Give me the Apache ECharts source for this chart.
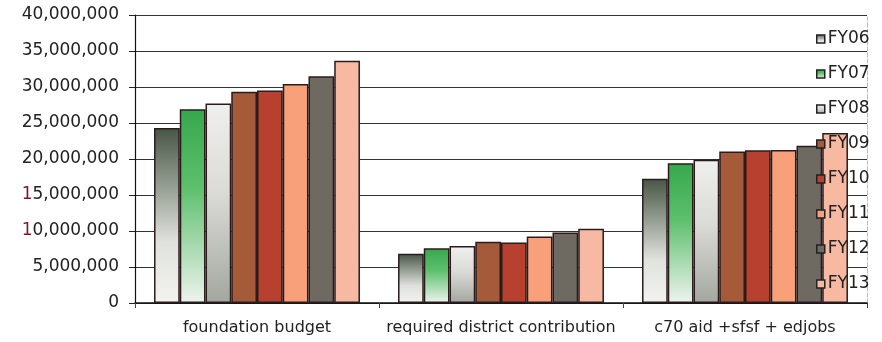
<!DOCTYPE html>
<html>
<head>
<meta charset="utf-8">
<script src="https://cdn.jsdelivr.net/npm/echarts@6/dist/echarts.min.js"></script>
<style>
html,body{margin:0;padding:0;background:#fff;}
#c{width:882px;height:342px;}
</style>
</head>
<body>
<div id="c"></div>
<script>
const categories = ['foundation budget', 'required district contribution', 'c70 aid +sfsf + edjobs'];
const seriesNames = ['FY06', 'FY07', 'FY08', 'FY09', 'FY10', 'FY11', 'FY12', 'FY13'];
const FY06 = [24300000, 6850000, 17250000];
const FY07 = [26900000, 7600000, 19400000];
const FY08 = [27700000, 7900000, 19900000];
const FY09 = [29350000, 8500000, 21050000];
const FY10 = [29500000, 8400000, 21200000];
const FY11 = [30400000, 9250000, 21250000];
const FY12 = [31500000, 9800000, 21850000];
const FY13 = [33650000, 10300000, 23600000];
const seriesValues = [FY06, FY07, FY08, FY09, FY10, FY11, FY12, FY13];
const yMin = 0, yMax = 40000000, yStep = 5000000;

function grad(stops) {
  return new echarts.graphic.LinearGradient(0, 0, 0, 1,
    stops.map(s => ({offset: s[0], color: s[1]})));
}
const colors = [
  grad([[0, '#485646'], [0.65, '#dfe2dc'], [1, '#f3f3ef']]),
  grad([[0, '#36a84c'], [0.4, '#5cbf6c'], [1, '#eef4ee']]),
  grad([[0, '#efefed'], [0.45, '#dadad6'], [1, '#a3a79f']]),
  '#a55a3a',
  '#b8402e',
  '#f7a07a',
  '#6e6a62',
  '#f8b9a2'
];

const chart = echarts.init(document.getElementById('c'));
const FONT = 'DejaVu Sans';
chart.setOption({
  animation: false,
  backgroundColor: '#fff',
  grid: {left: 135, right: 15, top: 15, bottom: 39, containLabel: false},
  legend: {
    orient: 'vertical',
    left: 811,
    top: 24,
    itemWidth: 8,
    itemHeight: 8,
    itemGap: 15,
    icon: 'rect',
    itemStyle: {borderColor: '#222', borderWidth: 1.5},
    textStyle: {fontFamily: FONT, fontSize: 17, color: '#222', lineHeight: 20, padding: [0, 0, 0, -2]},
    data: seriesNames
  },
  xAxis: {
    type: 'category',
    data: categories,
    axisLine: {lineStyle: {color: '#111', width: 1.5}},
    axisTick: {show: true, length: 5, lineStyle: {color: '#444'}},
    axisLabel: {fontFamily: FONT, fontSize: 16, color: '#222', margin: 17, interval: 0, hideOverlap: false}
  },
  yAxis: [{
    type: 'value',
    min: yMin, max: yMax, interval: yStep,
    axisLine: {show: true, lineStyle: {color: '#111', width: 1.2}},
    axisTick: {show: true, length: 6, lineStyle: {color: '#222'}},
    splitLine: {lineStyle: {color: '#333', width: 1}},
    axisLabel: {
      fontFamily: FONT, fontSize: 17, color: '#222', margin: 16,
      formatter: function (v) {
        const s = v.toLocaleString('en-US');
        if (s.charAt(0) === '1') return '{r|1}' + s.slice(1);
        return s;
      },
      rich: {r: {fontFamily: FONT, fontSize: 17, color: '#7a1a2a'}}
    }
  }, {
    type: 'value',
    position: 'right',
    min: yMin, max: yMax, interval: yStep,
    axisLine: {show: true, lineStyle: {color: '#bbb', type: 'dashed', width: 1}},
    axisTick: {show: false},
    axisLabel: {show: false},
    splitLine: {show: false}
  }],
  series: seriesNames.map((name, i) => ({
    name: name,
    type: 'bar',
    data: seriesValues[i],
    barGap: '0%',
    barCategoryGap: '15.6%',
    itemStyle: {color: colors[i], borderColor: '#2a1c1c', borderWidth: 1.5}
  }))
});
</script>
</body>
</html>
